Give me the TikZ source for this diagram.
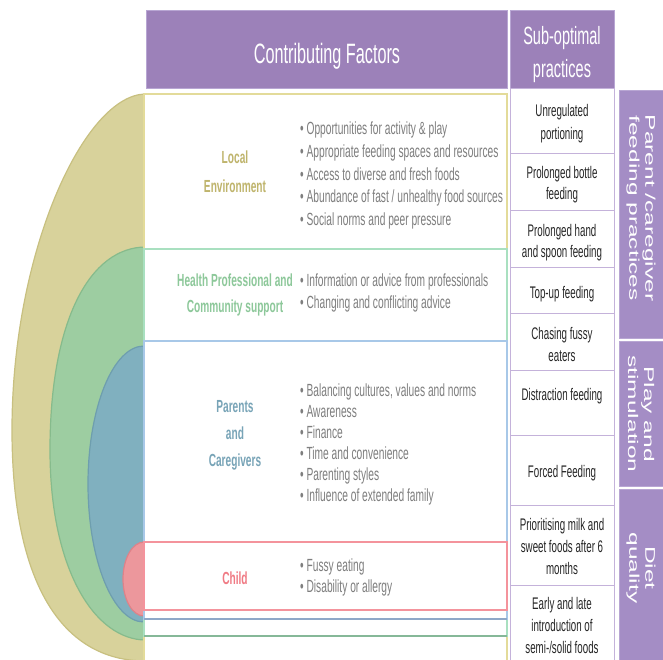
\documentclass[tikz,border=0pt]{standalone}
\usepackage{fontspec}
\setmainfont{Liberation Sans}[FakeStretch=0.58]
\newfontfamily\vfont{Liberation Sans}[FakeStretch=1.75]
\definecolor{headpurple}{HTML}{9C81B9}
\definecolor{bandpurple}{HTML}{A48DC5}
\definecolor{bandedge}{HTML}{B8A6D3}
\definecolor{cellline}{HTML}{C4B2DA}
\definecolor{yellowfill}{HTML}{D8D29B}
\definecolor{yellowrim}{HTML}{C8C080}
\definecolor{yellowline}{HTML}{E3DB9A}
\definecolor{greenfill}{HTML}{9DCDA1}
\definecolor{greenrim}{HTML}{86BB8C}
\definecolor{greenline}{HTML}{A9E0C0}
\definecolor{greenbot}{HTML}{86B898}
\definecolor{bluefill}{HTML}{80B0BF}
\definecolor{bluerim}{HTML}{6E9EAE}
\definecolor{blueline}{HTML}{A8C8E8}
\definecolor{bluebot}{HTML}{8FA8C8}
\definecolor{redfill}{HTML}{EC979C}
\definecolor{redrim}{HTML}{DE8289}
\definecolor{redline}{HTML}{F4939C}
\definecolor{localtxt}{HTML}{BFB46C}
\definecolor{healthtxt}{HTML}{8DC89A}
\definecolor{parenttxt}{HTML}{78A4B7}
\definecolor{childtxt}{HTML}{F07A84}
\definecolor{bulgray}{HTML}{7E7E7E}
\begin{document}
\begin{tikzpicture}[x=1pt,y=-1pt,
  bul/.style={anchor=base west, text=bulgray, font=\fontsize{17.6}{20}\selectfont, inner sep=0pt},
  lab/.style={anchor=base, font=\bfseries\fontsize{17.5}{20}\selectfont, inner sep=0pt},
  celltxt/.style={anchor=base, font=\fontsize{16.8}{20}\selectfont, text=black!85, inner sep=0pt},
  hdr/.style={anchor=base, text=white, inner sep=0pt},
  vlab/.style={rotate=-90, text=white, align=center, inner sep=0pt, font=\vfont\fontsize{14}{16}\selectfont},
  cellbox/.style={draw=cellline, line width=0.8pt, fill=white},
  bandbox/.style={draw=bandedge, line width=0.8pt, fill=bandpurple}]
\useasboundingbox (0,0) rectangle (663,659);
\clip (0,0) rectangle (663,659);
\fill[white] (0,0) rectangle (663,659);
% half ellipses
\begin{scope}
  \clip (0,0) rectangle (144,670);
  \filldraw[fill=yellowfill, draw=yellowrim, line width=1.2pt]
    (146,94) .. controls (85,94) and (12,250) .. (12,430)
    .. controls (12,580) and (60,661) .. (146,661) -- cycle;
  \filldraw[fill=greenfill, draw=greenrim, line width=1.2pt]
    (146,247) .. controls (90,247) and (50,320) .. (50,450)
    .. controls (50,570) and (95,640) .. (146,640) -- cycle;
  \filldraw[fill=bluefill, draw=bluerim, line width=1.2pt] (144,484) ellipse [x radius=56, y radius=138];
  \filldraw[fill=redfill, draw=redrim, line width=1.2pt] (144,579) ellipse [x radius=21, y radius=37];
\end{scope}
% nested boxes
\draw[yellowline, line width=1.2pt, fill=white] (144,94) rectangle (507,680);
\draw[greenline, line width=1.2pt, fill=white] (144,249) rectangle (507,636);
\draw[greenbot, line width=1.2pt] (144,636) -- (507,636);
\draw[blueline, line width=1.2pt, fill=white] (144,341) rectangle (507,619);
\draw[bluebot, line width=1.2pt] (144,619) -- (507,619);
\draw[redline, line width=1.2pt, fill=white] (144,542) rectangle (507,610);
% headers
\draw[fill=headpurple, draw=bandedge, line width=0.8pt] (146,10) rectangle (507,88);
\draw[fill=headpurple, draw=bandedge, line width=0.8pt] (510,10) rectangle (614,88);
\node[hdr, font=\fontsize{28}{30}\selectfont] (hcf) at (327,63) {Contributing Factors};
\node[hdr, font=\fontsize{25}{30}\selectfont] (hsub1) at (562,44) {Sub-optimal};
\node[hdr, font=\fontsize{25}{30}\selectfont] (hsub2) at (562,77) {practices};
% right column cells
\draw[cellbox] (510,88) rectangle (614,153);
\draw[cellbox] (510,153) rectangle (614,210);
\draw[cellbox] (510,210) rectangle (614,267);
\draw[cellbox] (510,267) rectangle (614,313);
\draw[cellbox] (510,313) rectangle (614,370);
\draw[cellbox] (510,370) rectangle (614,435);
\draw[cellbox] (510,435) rectangle (614,505);
\draw[cellbox] (510,505) rectangle (614,585);
\draw[cellbox] (510,585) rectangle (614,680);
% far right band
\draw[bandbox] (619,90) rectangle (670,338);
\draw[bandbox] (619,341) rectangle (670,486);
\draw[bandbox] (619,489) rectangle (670,680);
\node[vlab] (vpar) at (641,208) {Parent /caregiver\\feeding practices};
\node[vlab] (vplay) at (641,414) {Play and\\stimulation};
\node[vlab] (vdiet) at (641,568) {Diet\\quality};
% left labels
\node[lab, text=localtxt] (lloc1) at (235,163) {Local};
\node[lab, text=localtxt] (lloc2) at (235,192) {Environment};
\node[lab, text=healthtxt] (lhp1) at (235,286) {Health Professional and};
\node[lab, text=healthtxt] (lhp2) at (235,312) {Community support};
\node[lab, text=parenttxt] (lpc1) at (235,412) {Parents};
\node[lab, text=parenttxt] (lpc2) at (235,439) {and};
\node[lab, text=parenttxt] (lpc3) at (235,466) {Caregivers};
\node[lab, text=childtxt] (lch) at (235,584) {Child};
% bullets
\node[bul] (b1) at (300,134) {• Opportunities for activity \& play};
\node[bul] (b2) at (300,157) {• Appropriate feeding spaces and resources};
\node[bul] (b3) at (300,180) {• Access to diverse and fresh foods};
\node[bul] (b4) at (300,202) {• Abundance of fast / unhealthy food sources};
\node[bul] (b5) at (300,225) {• Social norms and peer pressure};
\node[bul] (b6) at (300,286) {• Information or advice from professionals};
\node[bul] (b7) at (300,308) {• Changing and conflicting advice};
\node[bul] (b8) at (300,396) {• Balancing cultures, values and norms};
\node[bul] (b9) at (300,417) {• Awareness};
\node[bul] (b10) at (300,438) {• Finance};
\node[bul] (b11) at (300,459) {• Time and convenience};
\node[bul] (b12) at (300,480) {• Parenting styles};
\node[bul] (b13) at (300,501) {• Influence of extended family};
\node[bul] (b14) at (300,571) {• Fussy eating};
\node[bul] (b15) at (300,592) {• Disability or allergy};
% cell texts
\node[celltxt] (c1a) at (562,116) {Unregulated};
\node[celltxt] (c1b) at (562,139) {portioning};
\node[celltxt] (c2a) at (562,178) {Prolonged bottle};
\node[celltxt] (c2b) at (562,199) {feeding};
\node[celltxt] (c3a) at (562,236) {Prolonged hand};
\node[celltxt] (c3b) at (562,257) {and spoon feeding};
\node[celltxt] (c4) at (562,298) {Top-up feeding};
\node[celltxt] (c5a) at (562,339) {Chasing fussy};
\node[celltxt] (c5b) at (562,361) {eaters};
\node[celltxt] (c6) at (562,400) {Distraction feeding};
\node[celltxt] (c7) at (562,477) {Forced Feeding};
\node[celltxt] (c8a) at (562,530) {Prioritising milk and};
\node[celltxt] (c8b) at (562,552) {sweet foods after 6};
\node[celltxt] (c8c) at (562,574) {months};
\node[celltxt] (c9a) at (562,609) {Early and late};
\node[celltxt] (c9b) at (562,631) {introduction of};
\node[celltxt] (c9c) at (562,653) {semi-/solid foods};
\end{tikzpicture}
\end{document}
